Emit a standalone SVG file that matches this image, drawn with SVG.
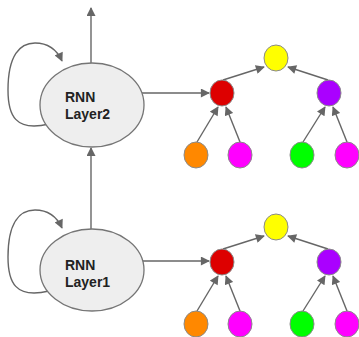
<svg xmlns="http://www.w3.org/2000/svg" width="359" height="337" viewBox="0 0 359 337">
<defs>
<marker id="ah" viewBox="0 0 10 10" refX="9" refY="5" markerWidth="10" markerHeight="9" orient="auto" markerUnits="userSpaceOnUse"><path d="M0,0 L10,5 L0,10 z" fill="#666"/></marker>
<style>
.rnn{fill:#eeeeee;stroke:#757575;stroke-width:1.3}
.lbl{font-family:"Liberation Sans",Arial,sans-serif;font-weight:bold;font-size:14px;fill:#222}
.n{stroke:#8a8a8a;stroke-width:1}
.c{fill:none;stroke:#666;stroke-width:1.4;marker-end:url(#ah)}
.l{fill:none;stroke:#666;stroke-width:1.4}
</style>
</defs>
<rect width="359" height="337" fill="#fff"/>
<g id="connectors">
<line class="c" x1="91" y1="63" x2="91" y2="8"/>
<line class="c" x1="91" y1="229" x2="91" y2="148"/>
<path class="c" d="M49 124 C15 132,8 115,8 90 C8 55,20 43,35 43 C48 43,57 50,62 61"/>
<path class="c" d="M49 291 C15 299,8 282,8 257 C8 222,20 210,35 210 C48 210,57 217,62 228"/>
<line class="c" x1="142" y1="93" x2="209" y2="93"/>
<line class="c" x1="142" y1="261" x2="209" y2="261"/>
<line class="c" x1="223" y1="80" x2="264" y2="67"/>
<line class="c" x1="328" y1="80" x2="288" y2="67"/>
<line class="c" x1="197" y1="142" x2="218" y2="107"/>
<line class="c" x1="240" y1="142" x2="226" y2="107"/>
<line class="c" x1="303" y1="142" x2="325" y2="107"/>
<line class="c" x1="347" y1="142" x2="333" y2="107"/>
<line class="c" x1="223" y1="249" x2="264" y2="236"/>
<line class="c" x1="328" y1="249" x2="288" y2="236"/>
<line class="c" x1="197" y1="311" x2="218" y2="276"/>
<line class="c" x1="240" y1="311" x2="226" y2="276"/>
<line class="c" x1="303" y1="311" x2="325" y2="276"/>
<line class="c" x1="347" y1="311" x2="333" y2="276"/>
</g>
<g id="layer2">
<ellipse class="rnn" cx="92" cy="105" rx="52" ry="42"/>
<text class="lbl" x="65" y="102">RNN</text>
<text class="lbl" x="65" y="119">Layer2</text>
</g>
<g id="layer1">
<ellipse class="rnn" cx="92" cy="270" rx="52" ry="41"/>
<text class="lbl" x="65" y="270">RNN</text>
<text class="lbl" x="65" y="287">Layer1</text>
</g>
<g id="t2-yellow"><ellipse class="n" cx="276" cy="58" rx="12" ry="13" fill="#ffff00"/></g>
<g id="t2-red"><ellipse class="n" cx="222" cy="93" rx="12" ry="13" fill="#dd0000"/></g>
<g id="t2-purple"><ellipse class="n" cx="329" cy="93" rx="12" ry="13" fill="#aa00ff"/></g>
<g id="t2-orange"><ellipse class="n" cx="196" cy="155" rx="12" ry="13" fill="#ff8800"/></g>
<g id="t2-magenta1"><ellipse class="n" cx="240" cy="155" rx="12" ry="13" fill="#ff00ff"/></g>
<g id="t2-green"><ellipse class="n" cx="302" cy="155" rx="12" ry="13" fill="#00ff00"/></g>
<g id="t2-magenta2"><ellipse class="n" cx="347" cy="155" rx="12" ry="13" fill="#ff00ff"/></g>
<g id="t1-yellow"><ellipse class="n" cx="276" cy="227" rx="12" ry="13" fill="#ffff00"/></g>
<g id="t1-red"><ellipse class="n" cx="222" cy="262" rx="12" ry="13" fill="#dd0000"/></g>
<g id="t1-purple"><ellipse class="n" cx="329" cy="262" rx="12" ry="13" fill="#aa00ff"/></g>
<g id="t1-orange"><ellipse class="n" cx="196" cy="324" rx="12" ry="13" fill="#ff8800"/></g>
<g id="t1-magenta1"><ellipse class="n" cx="240" cy="324" rx="12" ry="13" fill="#ff00ff"/></g>
<g id="t1-green"><ellipse class="n" cx="302" cy="324" rx="12" ry="13" fill="#00ff00"/></g>
<g id="t1-magenta2"><ellipse class="n" cx="347" cy="324" rx="12" ry="13" fill="#ff00ff"/></g>
</svg>
